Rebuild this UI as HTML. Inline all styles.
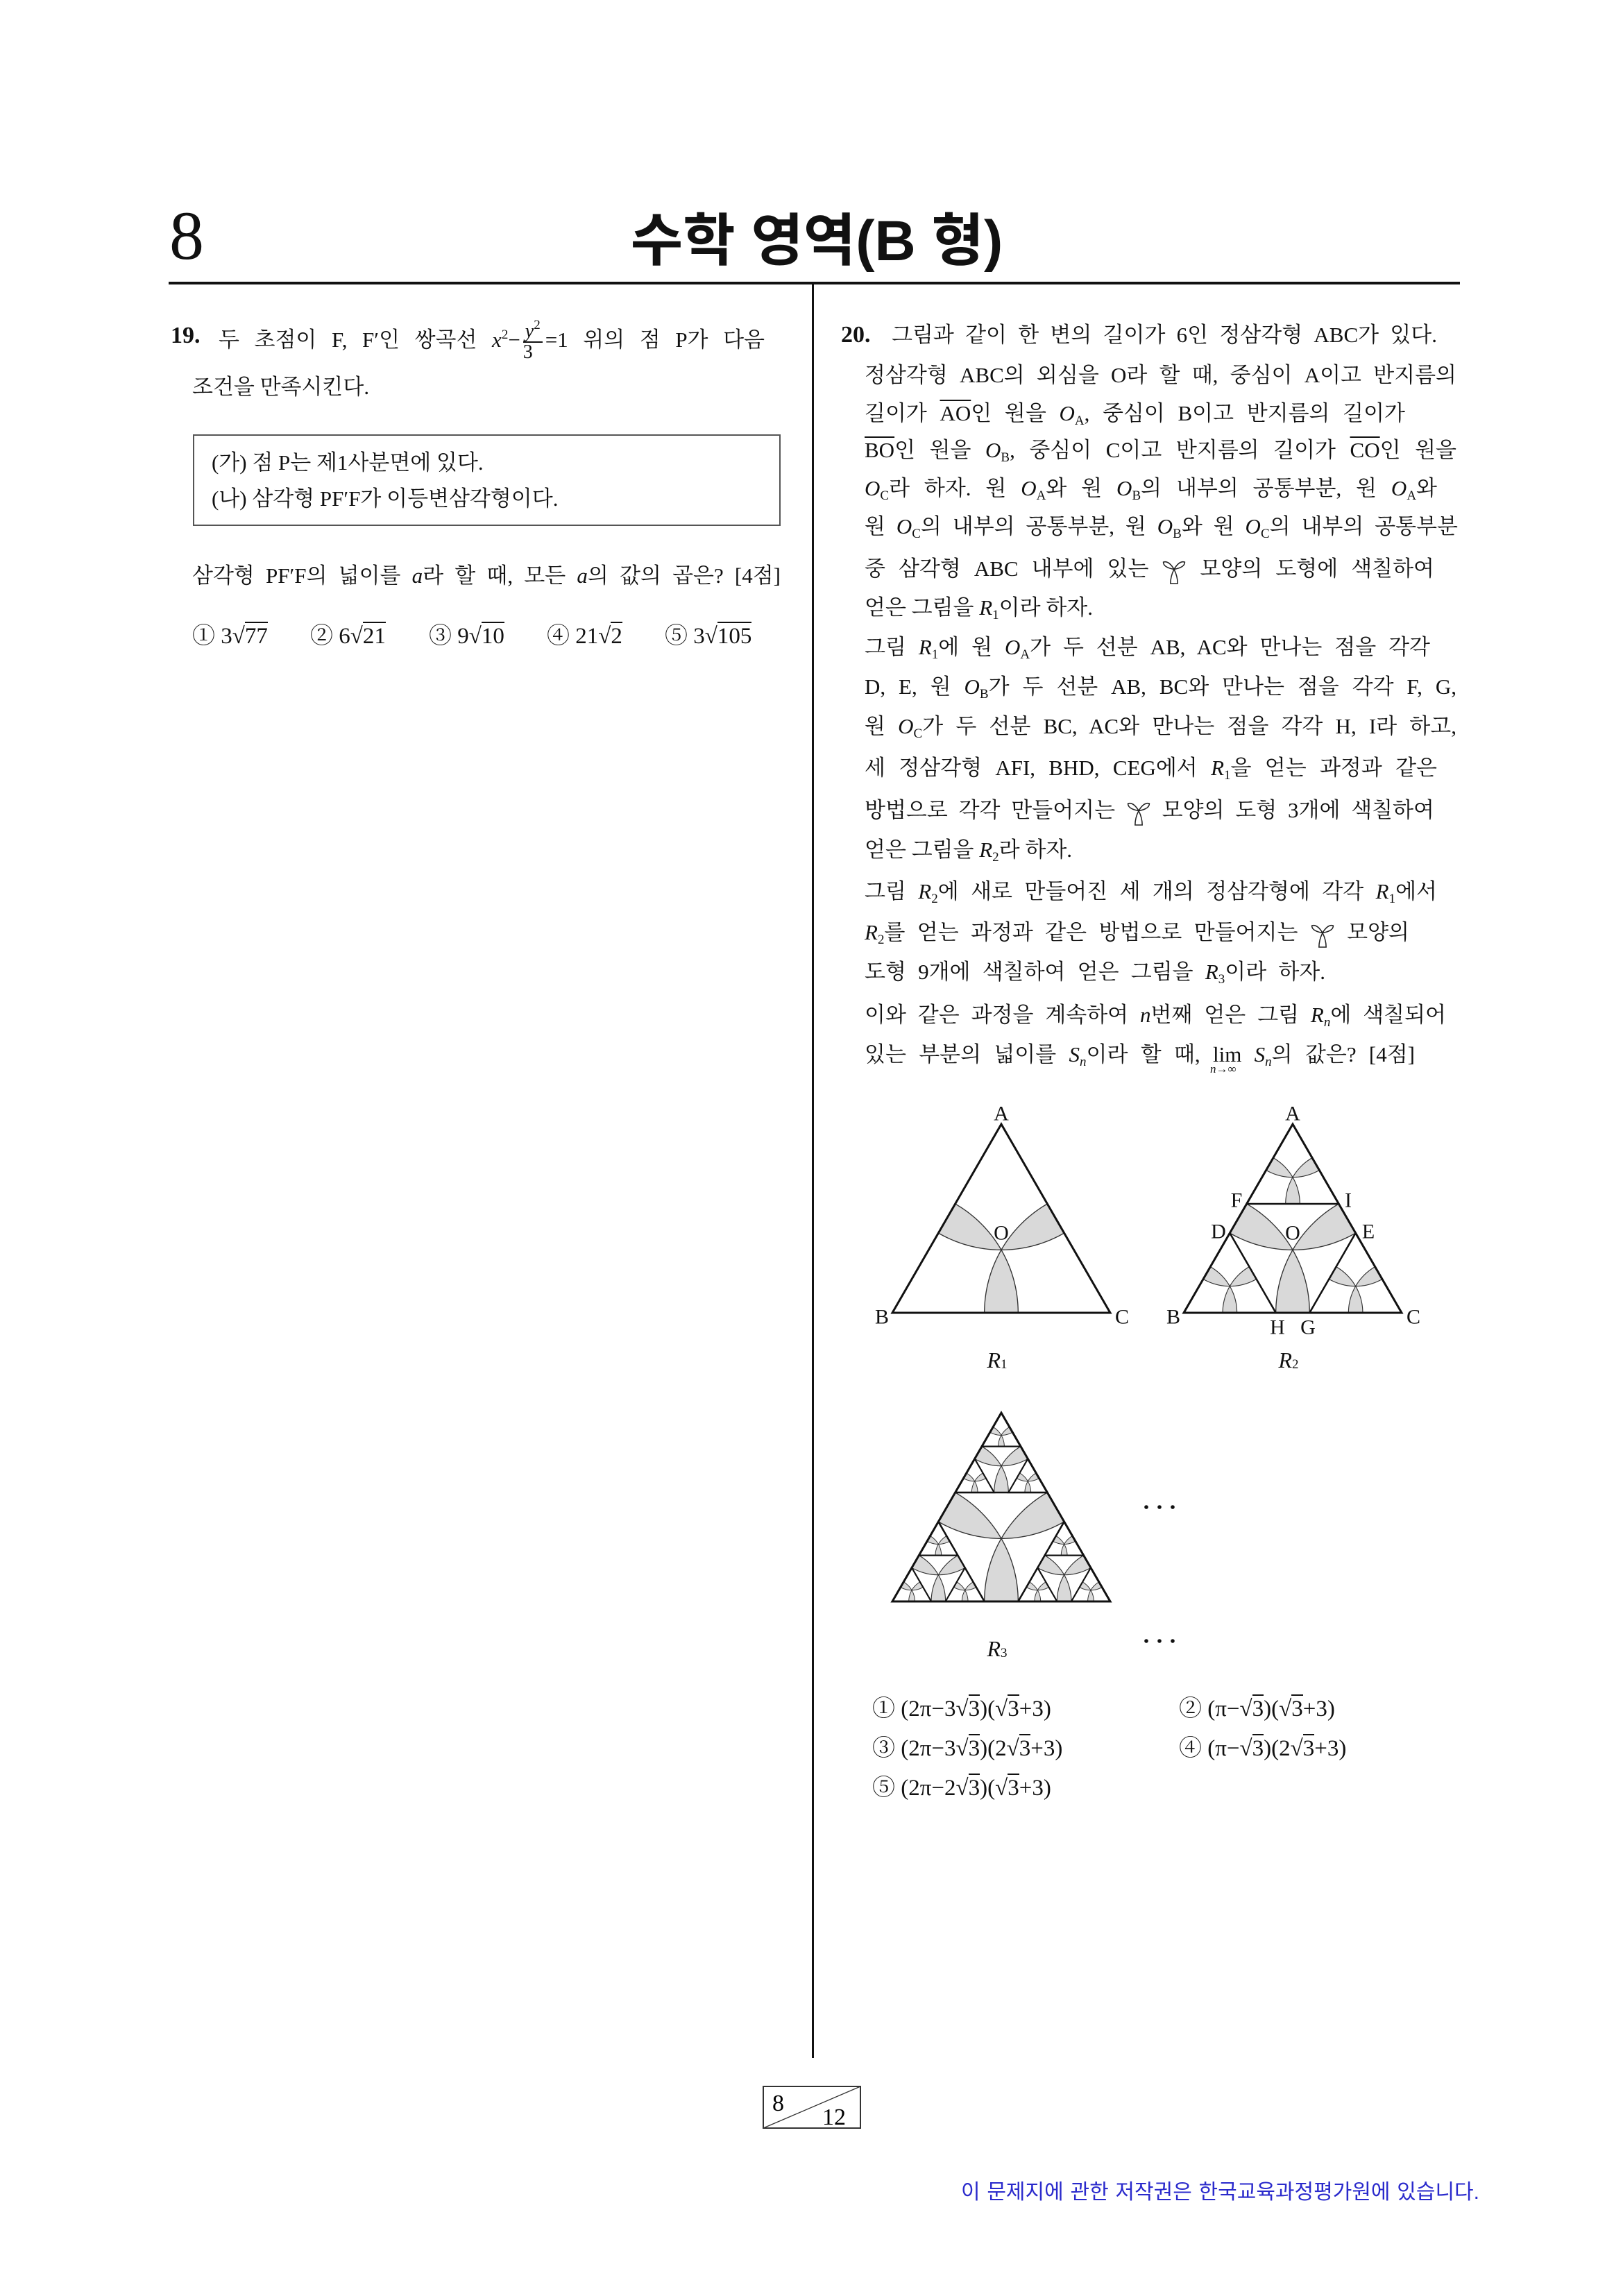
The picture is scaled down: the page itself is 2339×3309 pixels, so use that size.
<!DOCTYPE html>
<html><head><meta charset="utf-8">
<style>
html,body{margin:0;padding:0;background:#fff}
body{width:2339px;height:3309px;position:relative;overflow:hidden;font-family:"Liberation Serif","Noto Serif CJK KR","Noto Serif CJK SC",serif;color:#111;font-size:31px}
.ln{position:absolute;white-space:nowrap;text-align:justify;text-align-last:justify;height:40px;line-height:40px}
.nl{position:absolute;white-space:nowrap;height:40px;line-height:40px}
.qn{position:absolute;font-weight:bold;font-size:34px;height:40px;line-height:40px;font-family:"Liberation Serif",serif}
i{font-style:italic}
sub{font-size:19px;vertical-align:-6px;line-height:0}
sup{font-size:19px;vertical-align:12px;line-height:0}
.ov{text-decoration:overline;text-decoration-thickness:2px}
.sq span{border-top:2px solid #111;padding-top:1px}
.frac{display:inline-block;vertical-align:middle;text-align:center;line-height:28px;font-size:28px;margin:0 4px}
.frac span{display:block}
.frac .nu{border-bottom:2px solid #111;padding:0 3px}
.lim{position:relative;display:inline-block}
.lim .ls{position:absolute;left:-4px;top:32px;font-size:17px;line-height:17px;white-space:nowrap}
.rib{display:inline-block;vertical-align:middle;width:36px;height:42px}
.ch{font-size:33px}
</style></head>
<body>
<div style="position:absolute;left:244px;top:290px;font-size:100px;line-height:100px;font-family:'Liberation Serif',serif">8</div>
<div style="position:absolute;left:900px;width:554px;top:300px;text-align:center;font-size:82px;line-height:96px;font-weight:bold;font-family:'Liberation Sans','Noto Sans CJK KR',sans-serif">수학 영역(B 형)</div>
<div style="position:absolute;left:243px;top:406px;width:1861px;height:4px;background:#111"></div>
<div style="position:absolute;left:1170px;top:408px;width:3px;height:2558px;background:#111"></div>

<!-- Q19 -->
<div class="qn" style="left:246px;top:464px">19.</div>
<div class="ln" style="left:315px;top:464px;width:787px">두 초점이 F, F′인 쌍곡선 <i>x</i><sup>2</sup>−<span class="frac"><span class="nu"><i>y</i><sup>2</sup></span><span>3</span></span>=1 위의 점 P가 다음</div>
<div class="nl" style="left:277px;top:538px">조건을 만족시킨다.</div>
<div style="position:absolute;left:278px;top:626px;width:843px;height:128px;border:2px solid #555"></div>
<div class="nl" style="left:305px;top:647px">(가) 점 P는 제1사분면에 있다.</div>
<div class="nl" style="left:305px;top:699px">(나) 삼각형 PF′F가 이등변삼각형이다.</div>
<div class="ln" style="left:277px;top:810px;width:848px">삼각형 PF′F의 넓이를 <i>a</i>라 할 때, 모든 <i>a</i>의 값의 곱은? [4점]</div>
<div class="nl ch" style="left:277px;top:897px">① 3<span class="sq">√<span>77</span></span></div>
<div class="nl ch" style="left:447px;top:897px">② 6<span class="sq">√<span>21</span></span></div>
<div class="nl ch" style="left:618px;top:897px">③ 9<span class="sq">√<span>10</span></span></div>
<div class="nl ch" style="left:788px;top:897px">④ 21<span class="sq">√<span>2</span></span></div>
<div class="nl ch" style="left:958px;top:897px">⑤ 3<span class="sq">√<span>105</span></span></div>

<!-- Q20 -->
<div class="qn" style="left:1212px;top:463px">20.</div>
<div class="ln" style="left:1285px;top:463px;width:786px">그림과 같이 한 변의 길이가 6인 정삼각형 ABC가 있다.</div>
<div class="ln" style="left:1246px;top:521px;width:853px">정삼각형 ABC의 외심을 O라 할 때, 중심이 A이고 반지름의</div>
<div class="ln" style="left:1246px;top:576px;width:779px">길이가 <span class="ov">AO</span>인 원을 <i>O</i><sub>A</sub>, 중심이 B이고 반지름의 길이가</div>
<div class="ln" style="left:1246px;top:629px;width:853px"><span class="ov">BO</span>인 원을 <i>O</i><sub>B</sub>, 중심이 C이고 반지름의 길이가 <span class="ov">CO</span>인 원을</div>
<div class="ln" style="left:1246px;top:684px;width:825px"><i>O</i><sub>C</sub>라 하자. 원 <i>O</i><sub>A</sub>와 원 <i>O</i><sub>B</sub>의 내부의 공통부분, 원 <i>O</i><sub>A</sub>와</div>
<div class="ln" style="left:1246px;top:739px;width:855px">원 <i>O</i><sub>C</sub>의 내부의 공통부분, 원 <i>O</i><sub>B</sub>와 원 <i>O</i><sub>C</sub>의 내부의 공통부분</div>
<div class="ln" style="left:1246px;top:800px;width:821px">중 삼각형 ABC 내부에 있는 <svg class="rib" viewBox="0 0 28 32"><path d="M14 14 Q8 4 2 6 Q2 12 14 14 Q26 12 26 6 Q20 4 14 14 Q10 22 10 30 L18 30 Q18 22 14 14Z" fill="#fff" stroke="#222" stroke-width="1.2"/></svg> 모양의 도형에 색칠하여</div>
<div class="nl" style="left:1246px;top:856px">얻은 그림을 <i>R</i><sub>1</sub>이라 하자.</div>
<div class="ln" style="left:1246px;top:913px;width:815px">그림 <i>R</i><sub>1</sub>에 원 <i>O</i><sub>A</sub>가 두 선분 AB, AC와 만나는 점을 각각</div>
<div class="ln" style="left:1246px;top:970px;width:853px">D, E, 원 <i>O</i><sub>B</sub>가 두 선분 AB, BC와 만나는 점을 각각 F, G,</div>
<div class="ln" style="left:1246px;top:1027px;width:853px">원 <i>O</i><sub>C</sub>가 두 선분 BC, AC와 만나는 점을 각각 H, I라 하고,</div>
<div class="ln" style="left:1246px;top:1087px;width:825px">세 정삼각형 AFI, BHD, CEG에서 <i>R</i><sub>1</sub>을 얻는 과정과 같은</div>
<div class="ln" style="left:1246px;top:1148px;width:821px">방법으로 각각 만들어지는 <svg class="rib" viewBox="0 0 28 32"><path d="M14 14 Q8 4 2 6 Q2 12 14 14 Q26 12 26 6 Q20 4 14 14 Q10 22 10 30 L18 30 Q18 22 14 14Z" fill="#fff" stroke="#222" stroke-width="1.2"/></svg> 모양의 도형 3개에 색칠하여</div>
<div class="nl" style="left:1246px;top:1205px">얻은 그림을 <i>R</i><sub>2</sub>라 하자.</div>
<div class="ln" style="left:1246px;top:1265px;width:825px">그림 <i>R</i><sub>2</sub>에 새로 만들어진 세 개의 정삼각형에 각각 <i>R</i><sub>1</sub>에서</div>
<div class="ln" style="left:1246px;top:1324px;width:785px"><i>R</i><sub>2</sub>를 얻는 과정과 같은 방법으로 만들어지는 <svg class="rib" viewBox="0 0 28 32"><path d="M14 14 Q8 4 2 6 Q2 12 14 14 Q26 12 26 6 Q20 4 14 14 Q10 22 10 30 L18 30 Q18 22 14 14Z" fill="#fff" stroke="#222" stroke-width="1.2"/></svg> 모양의</div>
<div class="ln" style="left:1246px;top:1381px;width:664px">도형 9개에 색칠하여 얻은 그림을 <i>R</i><sub>3</sub>이라 하자.</div>
<div class="ln" style="left:1246px;top:1443px;width:838px">이와 같은 과정을 계속하여 <i>n</i>번째 얻은 그림 <i>R<sub>n</sub></i>에 색칠되어</div>
<div class="ln" style="left:1246px;top:1500px;width:793px">있는 부분의 넓이를 <i>S<sub>n</sub></i>이라 할 때, <span class="lim">lim<span class="ls"><i>n</i>→∞</span></span> <i>S<sub>n</sub></i>의 값은? [4점]</div>

<svg id="fig" style="position:absolute;left:0;top:0" width="2339" height="3309"></svg>

<div class="nl ch" style="left:1257px;top:2443px">① (2π−3<span class="sq">√<span>3</span></span>)(<span class="sq">√<span>3</span></span>+3)</div>
<div class="nl ch" style="left:1699px;top:2443px">② (π−<span class="sq">√<span>3</span></span>)(<span class="sq">√<span>3</span></span>+3)</div>
<div class="nl ch" style="left:1257px;top:2500px">③ (2π−3<span class="sq">√<span>3</span></span>)(2<span class="sq">√<span>3</span></span>+3)</div>
<div class="nl ch" style="left:1699px;top:2500px">④ (π−<span class="sq">√<span>3</span></span>)(2<span class="sq">√<span>3</span></span>+3)</div>
<div class="nl ch" style="left:1257px;top:2557px">⑤ (2π−2<span class="sq">√<span>3</span></span>)(<span class="sq">√<span>3</span></span>+3)</div>

<svg style="position:absolute;left:1099px;top:3006px" width="142" height="62">
<rect x="1" y="1" width="140" height="60" fill="#fff" stroke="#333" stroke-width="2"/>
<line x1="1" y1="61" x2="141" y2="1" stroke="#333" stroke-width="1.3"/>
<text x="14" y="36" font-family="Liberation Serif" font-size="34">8</text>
<text x="86" y="56" font-family="Liberation Serif" font-size="34">12</text>
</svg>
<div style="position:absolute;left:1385px;top:3140px;width:747px;height:40px;line-height:40px;white-space:nowrap;text-align-last:justify;color:#2a2acc;font-size:30px;font-family:'Liberation Sans','Noto Sans CJK KR',sans-serif">이 문제지에 관한 저작권은 한국교육과정평가원에 있습니다.</div>

<script>
const figureLevels = [1, 2, 3];
const figureNames = ['R1', 'R2', 'R3'];
const figOrigins = [[1286,1892],[1706,1892],[1286,2308]];
const SIDE = 314;
const NS='http://www.w3.org/2000/svg';
const svg=document.getElementById('fig');
function mk(tag, attrs){const e=document.createElementNS(NS,tag);for(const k in attrs)e.setAttribute(k,attrs[k]);return e;}
function arcPts(c,r,p1,p2,n){let a1=Math.atan2(p1[1]-c[1],p1[0]-c[0]),a2=Math.atan2(p2[1]-c[1],p2[0]-c[0]);let d=a2-a1;while(d>Math.PI)d-=2*Math.PI;while(d<-Math.PI)d+=2*Math.PI;const pts=[];for(let i=0;i<=n;i++){const a=a1+d*i/n;pts.push([c[0]+r*Math.cos(a),c[1]+r*Math.sin(a)]);}return pts;}
function drawTri(g,P,level,lw){
  const s=Math.hypot(P[1][0]-P[0][0],P[1][1]-P[0][1]);
  const R=s/Math.sqrt(3);
  const O=[(P[0][0]+P[1][0]+P[2][0])/3,(P[0][1]+P[1][1]+P[2][1])/3];
  const pairs=[[0,1],[1,2],[2,0]];
  for(const [i,j] of pairs){
    const p=P[i],q=P[j];
    const XP=[p[0]+(q[0]-p[0])*R/s,p[1]+(q[1]-p[1])*R/s];
    const XQ=[q[0]+(p[0]-q[0])*R/s,q[1]+(p[1]-q[1])*R/s];
    const pts=arcPts(p,R,XP,O,30).concat(arcPts(q,R,O,XQ,30));
    const path=mk('path',{d:'M'+pts.map(t=>t[0].toFixed(2)+' '+t[1].toFixed(2)).join('L')+'Z',fill:'#d9d9d9',stroke:'#333','stroke-width':Math.max(0.8,lw*0.45)});
    
    
    g.appendChild(path);
  }
  if(level>1){
    const k=1-1/Math.sqrt(3);
    for(let v=0;v<3;v++){
      const V=P[v],U=P[(v+1)%3],W=P[(v+2)%3];
      drawTri(g,[V,[V[0]+(U[0]-V[0])*k,V[1]+(U[1]-V[1])*k],[V[0]+(W[0]-V[0])*k,V[1]+(W[1]-V[1])*k]],level-1,lw*0.85);
    }
  }
  const poly=mk('polygon',{points:P.map(t=>t.join(',')).join(' '),fill:'none',stroke:'#111','stroke-width':lw,'stroke-linejoin':'miter'});
  
  
  g.appendChild(poly);
}
function label(g,txt,x,y,size,italic,name){
  const t=mk('text',{x:x,y:y,'font-family':'Liberation Serif','font-size':size,'text-anchor':'middle','dominant-baseline':'central','fill':'#111'});
  if(italic)t.setAttribute('font-style','italic');
  t.textContent=txt;
  
  
  g.appendChild(t);return t;
}
figureLevels.forEach((lv,idx)=>{
  const g=mk('g',{});
  
  
  svg.appendChild(g);
  const [bx,by]=figOrigins[idx];
  const h=SIDE*Math.sqrt(3)/2;
  drawTri(g,[[bx+SIDE/2,by-h],[bx,by],[bx+SIDE,by]],lv,3);
  const cx=bx+SIDE/2;
  const t=label(g,'',cx-6,by+68,32,true,'figure-caption');
  t.textContent='R';
  const ts=mk('tspan',{'font-size':19,'font-style':'normal',dy:6});ts.textContent=String(lv);t.appendChild(ts);
});
const g1=svg.children[0];
label(g1,'A',1443,1605,30,false,'label-a');label(g1,'B',1271,1898,30,false,'label-b');label(g1,'C',1617,1898,30,false,'label-c');label(g1,'O',1443,1777,30,false,'label-o');
const g2=svg.children[1];
[['A',1863,1605],['B',1691,1898],['C',2037,1898],['O',1863,1777],['F',1782,1730],['I',1943,1730],['D',1756,1775],['E',1972,1775],['H',1841,1913],['G',1885,1913]].forEach(a=>label(g2,a[0],a[1],a[2],30,false,'label-'+a[0].toLowerCase()));
[[2172],[2365]].forEach((r)=>{[1652,1671,1690].forEach(x=>{const c=mk('circle',{cx:x,cy:r[0],r:2.8,fill:'#111'});svg.appendChild(c);});});
</script>
</body></html>
